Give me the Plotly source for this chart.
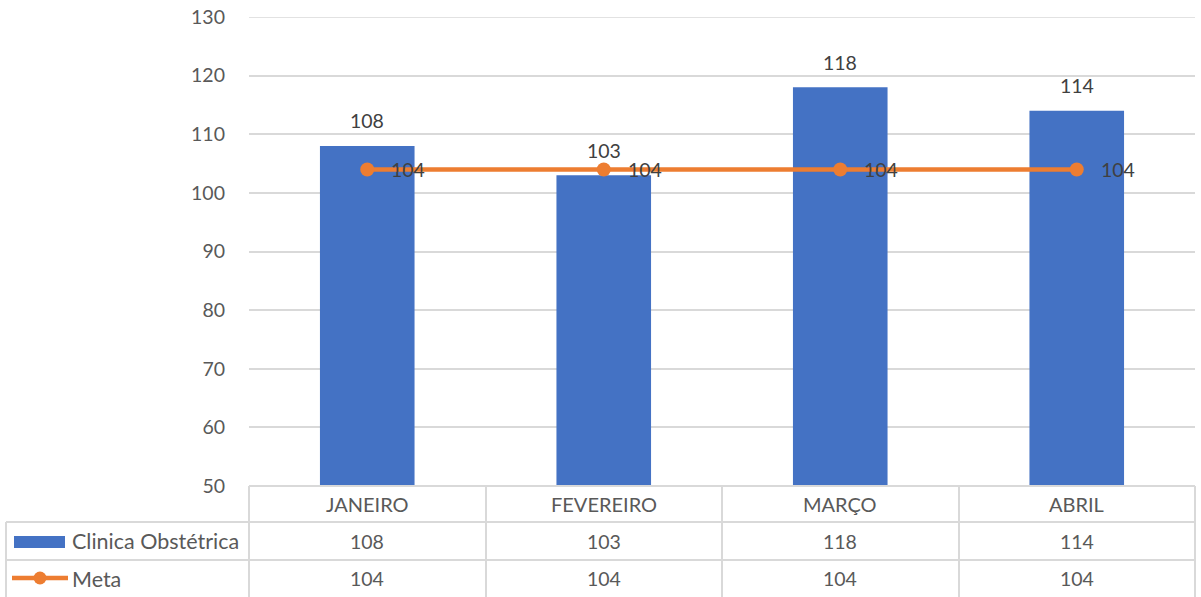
import plotly.graph_objects as go

# Chart data
meses = ["JANEIRO", "FEVEREIRO", "MARÇO", "ABRIL"]
clinica = [108, 103, 118, 114]
meta = [104, 104, 104, 104]
serie_nomes = ["Clinica Obstétrica", "Meta"]
y_ticks = [50, 60, 70, 80, 90, 100, 110, 120, 130]

W, H = 1201, 597
L, R, T, B = 249, 1195, 17, 486  # plot area in pixels

AZUL = "#4472C4"
LARANJA = "#ED7D31"
GRADE = "#D9D9D9"
TEXTO = "#595959"
ROTULO = "#404040"
FONTE = "Lato"


def px(xp):
    return (xp - L) / (R - L)


def py(yp):
    return (B - yp) / (B - T)


fig = go.Figure()

fig.add_trace(go.Bar(
    x=meses, y=clinica, name=serie_nomes[0],
    marker=dict(color=AZUL, line=dict(width=0)),
    width=0.4, showlegend=False, hoverinfo="skip",
))
fig.add_trace(go.Scatter(
    x=meses, y=meta, name=serie_nomes[1], mode="lines+markers",
    line=dict(color=LARANJA, width=4.5),
    marker=dict(color=LARANJA, size=14),
    showlegend=False, hoverinfo="skip",
))

anns = []
# data labels
for m, v in zip(meses, clinica):
    anns.append(dict(x=m, y=v, xref="x", yref="y", text=str(v), showarrow=False,
                     xanchor="center", yanchor="middle", yshift=25,
                     font=dict(family=FONTE, size=19.5, color=ROTULO)))
for m, v in zip(meses, meta):
    anns.append(dict(x=m, y=v, xref="x", yref="y", text=str(v), showarrow=False,
                     xanchor="center", yanchor="middle", xshift=41,
                     font=dict(family=FONTE, size=19.5, color=ROTULO)))

# data table rows
row_mid = [py(504), py(541), py(578.5)]
for i, m in enumerate(meses):
    anns.append(dict(x=m, y=row_mid[0], xref="x", yref="paper", text=m, showarrow=False,
                     xanchor="center", yanchor="middle",
                     font=dict(family=FONTE, size=20, color=TEXTO)))
    anns.append(dict(x=m, y=row_mid[1], xref="x", yref="paper", text=str(clinica[i]),
                     showarrow=False, xanchor="center", yanchor="middle",
                     font=dict(family=FONTE, size=19.5, color=TEXTO)))
    anns.append(dict(x=m, y=row_mid[2], xref="x", yref="paper", text=str(meta[i]),
                     showarrow=False, xanchor="center", yanchor="middle",
                     font=dict(family=FONTE, size=19.5, color=TEXTO)))
for j, nome in enumerate(serie_nomes):
    anns.append(dict(x=px(70), y=row_mid[j + 1], xref="paper", yref="paper", text=nome,
                     xanchor="left", yanchor="middle", showarrow=False,
                     font=dict(family=FONTE, size=21.5, color=TEXTO)))

shapes = []
ln = dict(color=GRADE, width=2)
# top gridline
shapes.append(dict(type="line", xref="paper", yref="y", x0=0, x1=1, y0=y_ticks[-1],
                   y1=y_ticks[-1], line=dict(color=GRADE, width=1.5), layer="below"))
# horizontal table lines
shapes.append(dict(type="line", xref="paper", yref="paper", x0=0, x1=1, y0=0, y1=0, line=ln))
for yp in (522, 560):
    shapes.append(dict(type="line", xref="paper", yref="paper", x0=px(6), x1=1,
                       y0=py(yp), y1=py(yp), line=ln))
# vertical table lines
for xp in (249, 486, 722, 959, 1195):
    shapes.append(dict(type="line", xref="paper", yref="paper", x0=px(xp), x1=px(xp),
                       y0=0, y1=py(597), line=ln))
shapes.append(dict(type="line", xref="paper", yref="paper", x0=px(6), x1=px(6),
                   y0=py(522), y1=py(597), line=ln))
# legend keys
shapes.append(dict(type="rect", xref="paper", yref="paper", x0=px(14), x1=px(65),
                   y0=py(548), y1=py(536), fillcolor=AZUL, line=dict(width=0)))
shapes.append(dict(type="line", xref="paper", yref="paper", x0=px(12), x1=px(68),
                   y0=py(578), y1=py(578), line=dict(color=LARANJA, width=4.5)))
shapes.append(dict(type="circle", xref="paper", yref="paper", x0=px(33.5), x1=px(46.5),
                   y0=py(584.5), y1=py(571.5), fillcolor=LARANJA, line=dict(width=0)))

fig.update_layout(
    width=W, height=H,
    margin=dict(l=L, r=W - R, t=T, b=H - B, pad=0),
    paper_bgcolor="white", plot_bgcolor="white",
    bargap=0.6,
    annotations=anns, shapes=shapes,
    xaxis=dict(showticklabels=False, showgrid=False, zeroline=False, showline=False,
               ticks="", range=[-0.5, 3.5]),
    yaxis=dict(range=[50, 130], tickvals=y_ticks, showgrid=True, gridcolor=GRADE,
               gridwidth=1.5, zeroline=False, showline=False, ticks="",
               ticklabelstandoff=23,
               tickfont=dict(family=FONTE, size=19.5, color=TEXTO)),
)

fig.write_html("out.html")
